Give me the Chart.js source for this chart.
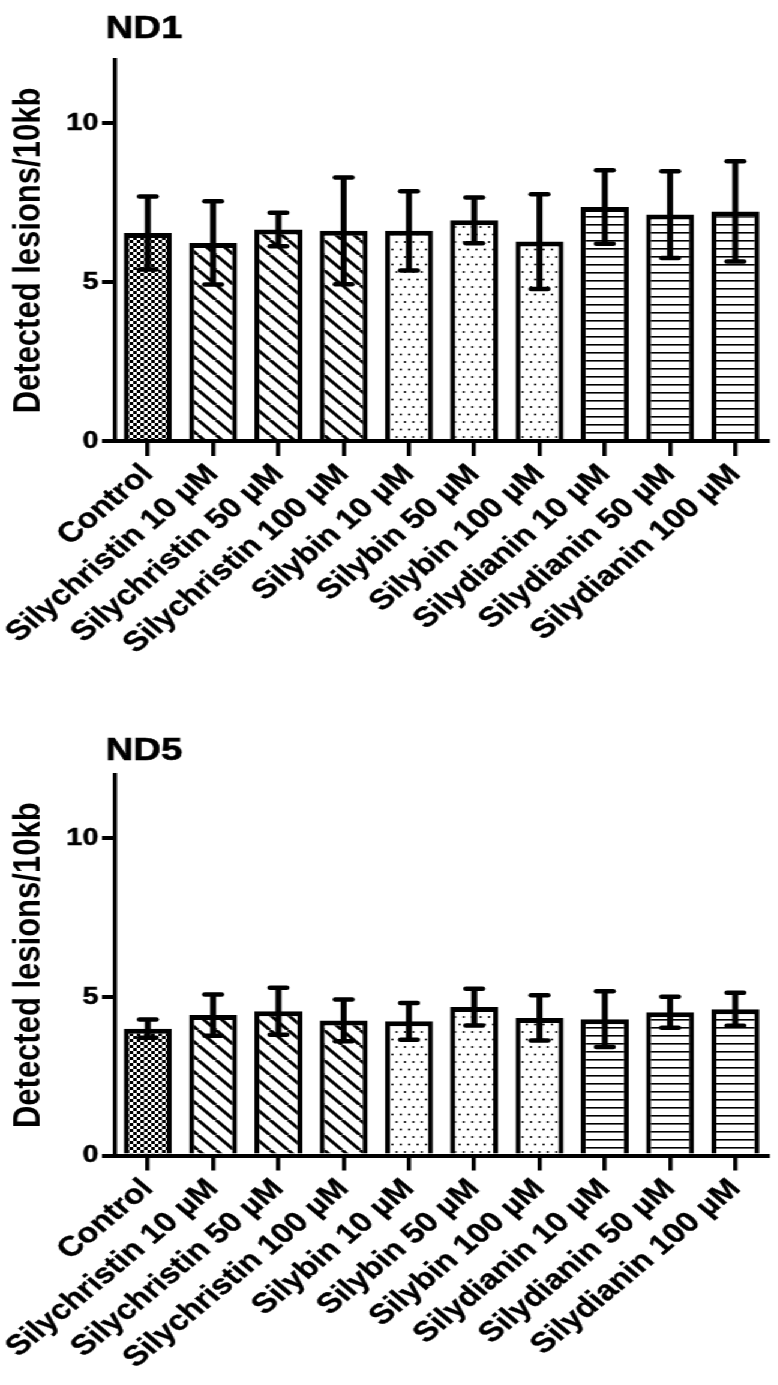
<!DOCTYPE html>
<html>
<head>
<meta charset="utf-8">
<script src="https://cdn.jsdelivr.net/npm/chart.js@4.4.1/dist/chart.umd.min.js"></script>
<style>
  body { margin: 0; background: #fff; }
  /* the source figure is stretched sideways, so the charts are too */
  #wrap { width: 648px; transform: scaleX(1.2); transform-origin: 0 0; }
  canvas { display: block; }
</style>
</head>
<body>
<div id="wrap">
  <canvas id="nd1" width="648" height="715"></canvas>
  <canvas id="nd5" width="648" height="670"></canvas>
</div>
<script>
const categories = [
  "Control",
  "Silychristin 10 \u00B5M", "Silychristin 50 \u00B5M", "Silychristin 100 \u00B5M",
  "Silybin 10 \u00B5M", "Silybin 50 \u00B5M", "Silybin 100 \u00B5M",
  "Silydianin 10 \u00B5M", "Silydianin 50 \u00B5M", "Silydianin 100 \u00B5M"
];
const nd1Mean = [6.55, 6.24, 6.66, 6.62, 6.62, 6.95, 6.28, 7.37, 7.13, 7.23];
const nd1Sd = [1.15, 1.31, 0.53, 1.68, 1.25, 0.72, 1.49, 1.16, 1.37, 1.58];
const nd5Mean = [4.0, 4.43, 4.55, 4.26, 4.23, 4.68, 4.34, 4.30, 4.52, 4.61];
const nd5Sd = [0.29, 0.65, 0.74, 0.66, 0.58, 0.58, 0.71, 0.88, 0.49, 0.52];
const yTicks = [0, 5, 10];
const yMax = 12;
const yTitle = "Detected lesions/10kb";

const FONT = "'Liberation Sans', Arial, sans-serif";

function makePattern(w, h, draw) {
  const c = document.createElement("canvas");
  c.width = w;
  c.height = h;
  const g = c.getContext("2d");
  g.fillStyle = "#fff";
  g.fillRect(0, 0, w, h);
  g.fillStyle = "#000";
  g.strokeStyle = "#000";
  draw(g);
  return g.createPattern(c, "repeat");
}

const patterns = {
  Control: makePattern(6, 6, (g) => {
    g.fillRect(0, 0, 3, 3);
    g.fillRect(3, 3, 3, 3);
  }),
  Silychristin: makePattern(15, 15, (g) => {
    g.lineWidth = 3;
    [-15, 0, 15].forEach((o) => {
      g.beginPath();
      g.moveTo(o, 0);
      g.lineTo(o + 15, 15);
      g.stroke();
    });
  }),
  Silybin: makePattern(7, 15, (g) => {
    g.beginPath();
    g.arc(1.5, 2, 1, 0, Math.PI * 2);
    g.arc(5, 9.5, 1, 0, Math.PI * 2);
    g.fill();
  }),
  Silydianin: makePattern(8, 8, (g) => {
    g.fillRect(0, 0, 8, 1.6);
  }),
};

const barFills = categories.map((c) => patterns[c.split(" ")[0]]);

const errorBars = {
  id: "errorBars",
  afterDatasetsDraw(chart, args, opts) {
    const { ctx } = chart;
    const y = chart.scales.y;
    const meta = chart.getDatasetMeta(0);
    ctx.save();
    ctx.strokeStyle = "#000";
    meta.data.forEach((bar, i) => {
      const hi = y.getPixelForValue(opts.mean[i] + opts.sd[i]);
      const lo = y.getPixelForValue(opts.mean[i] - opts.sd[i]);
      ctx.lineCap = "butt";
      ctx.lineWidth = 5;
      ctx.beginPath();
      ctx.moveTo(bar.x, hi);
      ctx.lineTo(bar.x, lo);
      ctx.stroke();
      ctx.lineCap = "round";
      ctx.lineWidth = 4.5;
      [hi, lo].forEach((yy) => {
        ctx.beginPath();
        ctx.moveTo(bar.x - 7, yy);
        ctx.lineTo(bar.x + 7, yy);
        ctx.stroke();
      });
    });
    ctx.restore();
  },
};

const panelTitle = {
  id: "panelTitle",
  afterDraw(chart, args, opts) {
    const { ctx } = chart;
    ctx.save();
    ctx.fillStyle = "#000";
    ctx.strokeStyle = "#000";
    ctx.lineWidth = 0.6;
    ctx.font = "bold 32px " + FONT;
    ctx.textBaseline = "alphabetic";
    ctx.fillText(opts.text, chart.chartArea.left - 8, opts.y);
    ctx.strokeText(opts.text, chart.chartArea.left - 8, opts.y);
    ctx.restore();
  },
};

function drawPanel(id, title, titleY, mean, sd, zeroY) {
  const canvas = document.getElementById(id);
  const h = canvas.height;
  return new Chart(canvas.getContext("2d"), {
    type: "bar",
    data: {
      labels: categories,
      datasets: [
        {
          data: mean,
          backgroundColor: barFills,
          borderColor: "#000",
          borderWidth: { top: 5, left: 4.2, right: 4.2, bottom: 0 },
          borderSkipped: "start",
          barPercentage: 0.735,
          categoryPercentage: 1,
        },
      ],
    },
    options: {
      responsive: false,
      animation: false,
      layout: { padding: { top: 60, right: 8, left: 0, bottom: 0 } },
      plugins: {
        legend: { display: false },
        tooltip: { enabled: false },
        errorBars: { mean: mean, sd: sd },
        panelTitle: { text: title, y: titleY },
      },
      scales: {
        x: {
          grid: {
            display: true,
            drawOnChartArea: false,
            offset: false,
            color: "#000",
            lineWidth: 3.5,
            tickWidth: 3.5,
            tickLength: 15,
          },
          border: { display: true, color: "#000", width: 4 },
          ticks: {
            color: "#000",
            font: { family: FONT, size: 28, weight: "bold" },
            textStrokeColor: "#000",
            textStrokeWidth: 0.4,
            minRotation: 45,
            maxRotation: 45,
            autoSkip: false,
            padding: 2,
          },
          afterFit: (s) => {
            s.height = h - zeroY;
          },
        },
        y: {
          min: 0,
          max: yMax,
          afterBuildTicks: (s) => {
            s.ticks = yTicks.map((v) => ({ value: v }));
          },
          grid: {
            display: true,
            drawOnChartArea: false,
            color: "#000",
            lineWidth: 4,
            tickWidth: 4,
            tickLength: 11,
          },
          border: { display: true, color: "#000", width: 3.5 },
          ticks: {
            color: "#000",
            font: { family: FONT, size: 24, weight: "bold" },
            textStrokeColor: "#000",
            textStrokeWidth: 0.5,
            padding: 3,
          },
          title: {
            display: true,
            text: yTitle,
            color: "#000",
            font: { family: FONT, size: 31, weight: "bold" },
            padding: { top: 6, bottom: 0 },
          },
          afterFit: (s) => {
            s.width = 96;
          },
        },
      },
    },
    plugins: [errorBars, panelTitle],
  });
}

drawPanel("nd1", "ND1", 38, nd1Mean, nd1Sd, 441);
drawPanel("nd5", "ND5", 45, nd5Mean, nd5Sd, 440.5);
</script>
</body>
</html>
